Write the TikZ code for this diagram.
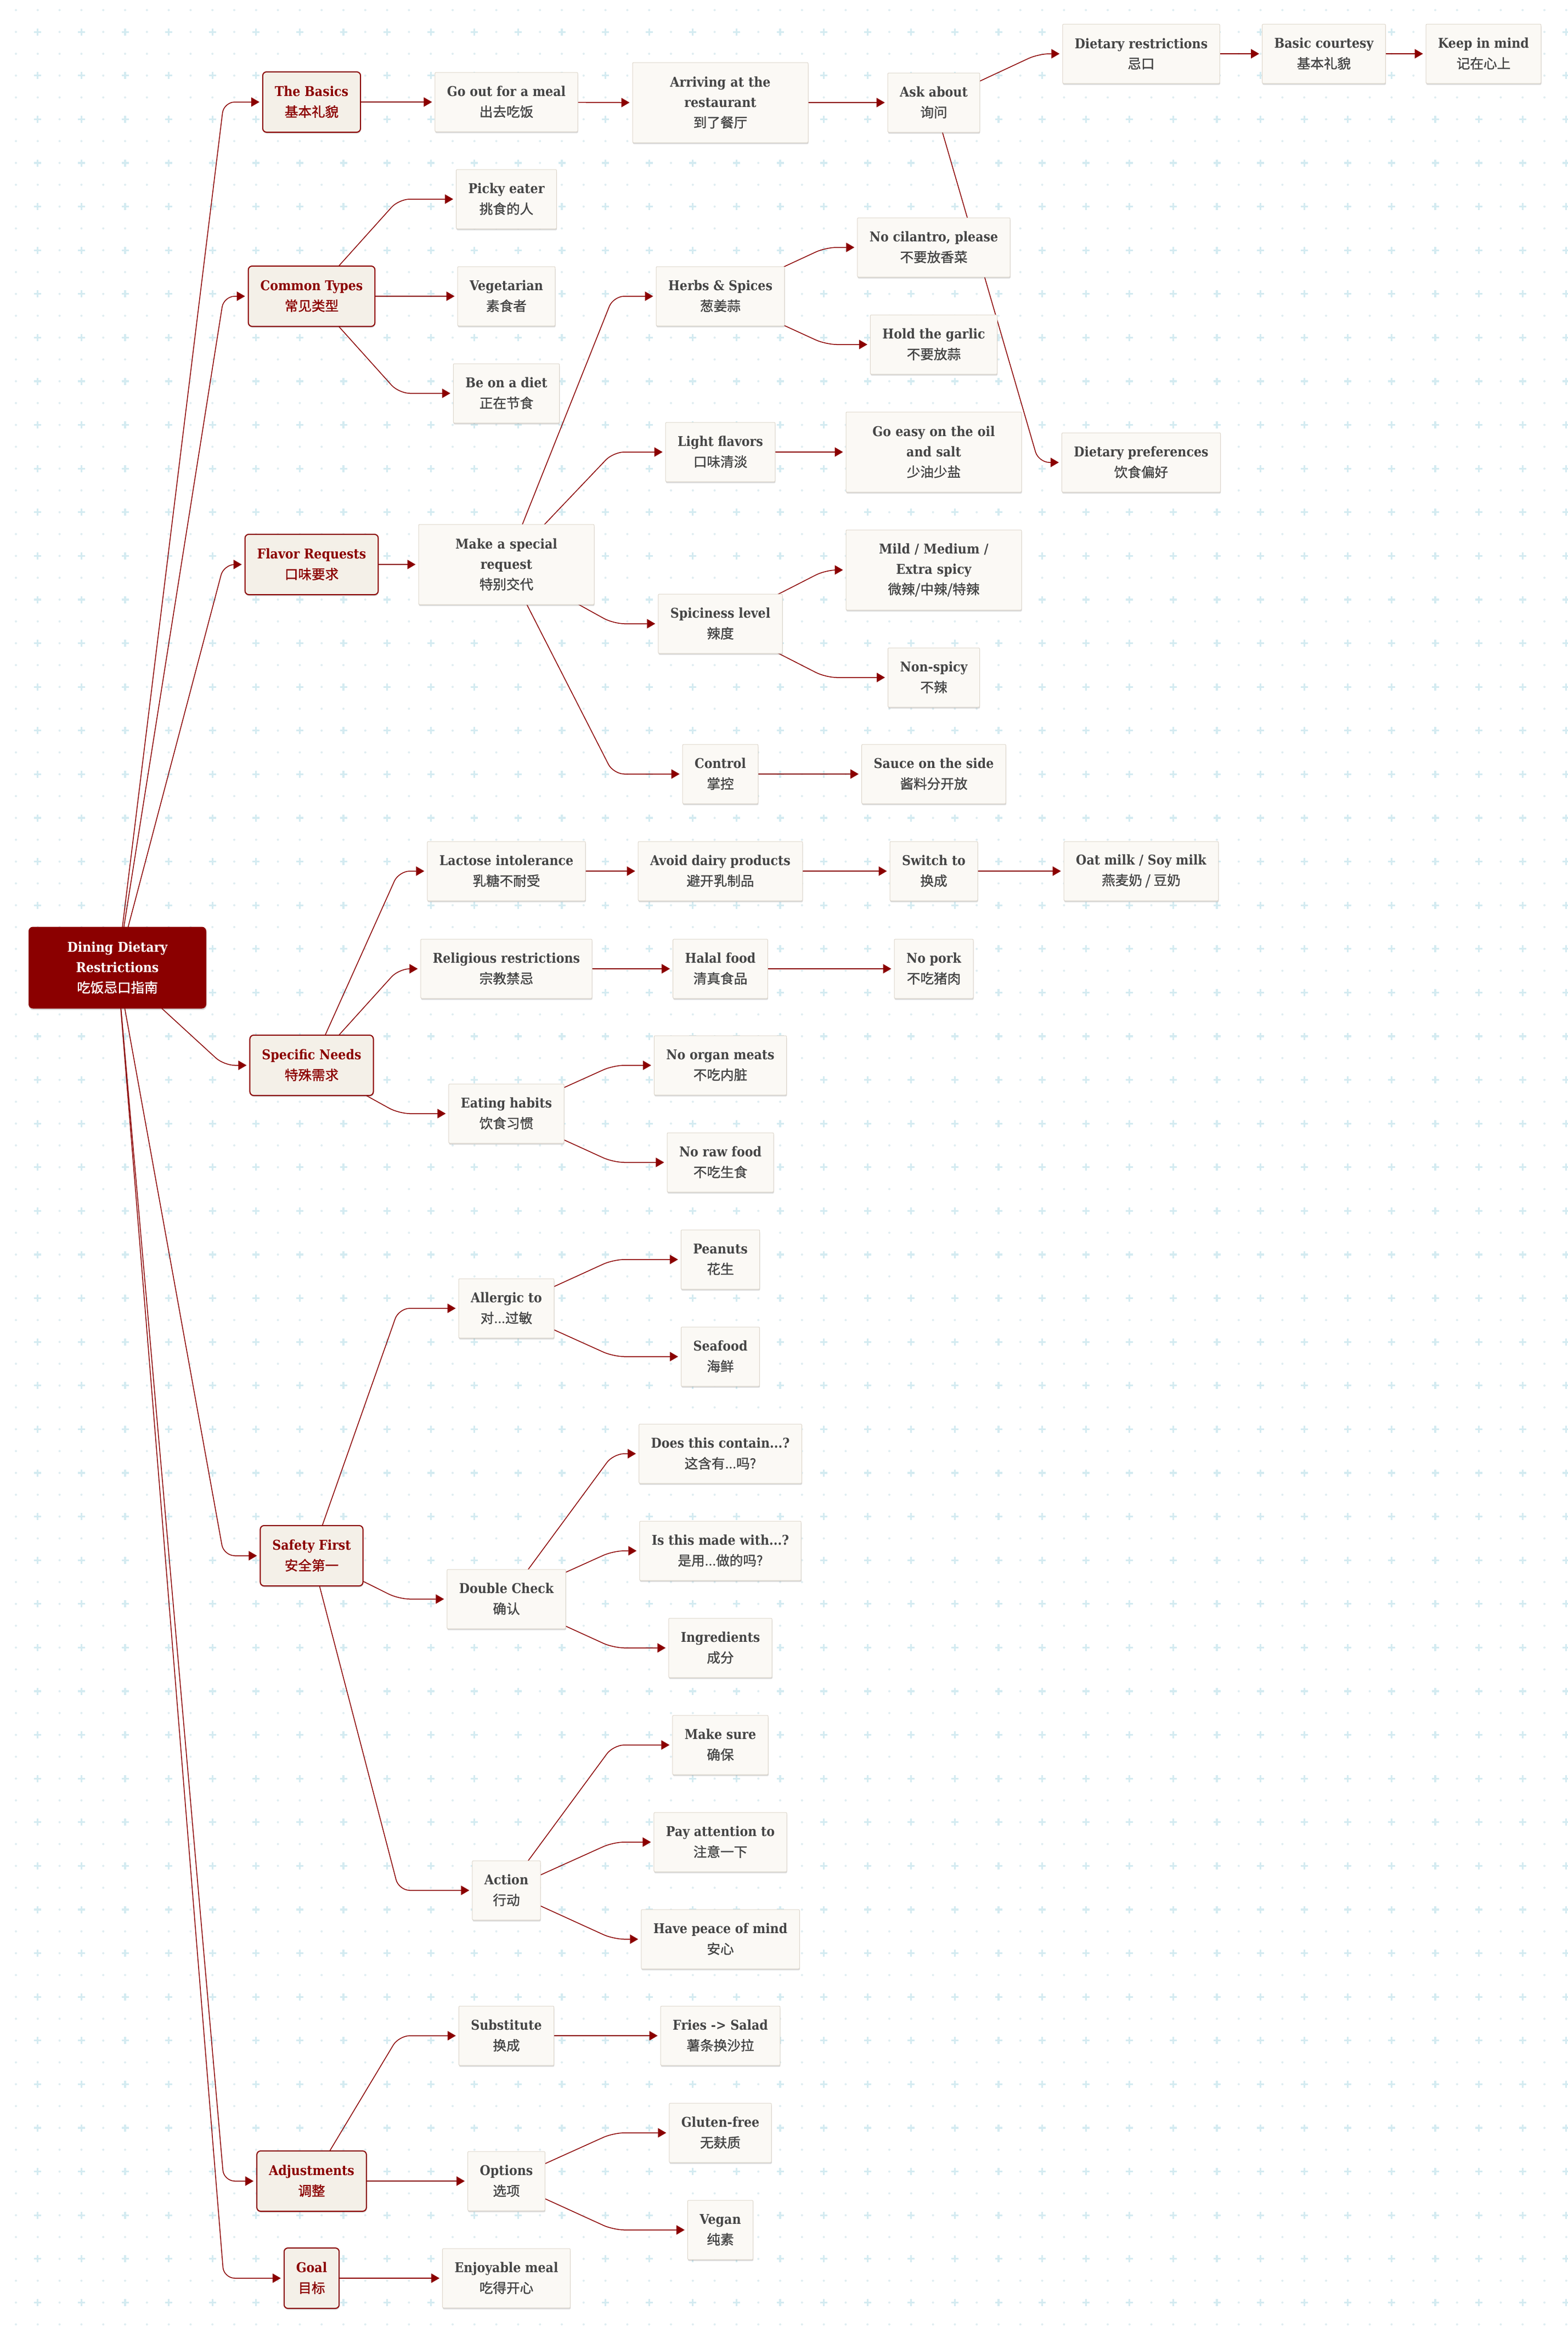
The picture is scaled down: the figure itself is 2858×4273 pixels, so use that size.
\documentclass[tikz,border=0pt]{standalone}
\usepackage{fontspec}
\setmainfont{DejaVu Serif}[FakeStretch=0.9]
\newfontfamily\cjk{Noto Sans CJK SC}[FakeBold=1.2]
\usetikzlibrary{arrows.meta,shadows,backgrounds}
\definecolor{dred}{HTML}{8B0000}
\definecolor{nodefill}{HTML}{FBF9F5}
\definecolor{nodeline}{HTML}{DDD6CB}
\definecolor{catfill}{HTML}{F4F0E8}
\definecolor{txt}{HTML}{454545}
\definecolor{dotc}{HTML}{DFEDF1}
\definecolor{plusc}{HTML}{D4EBF1}
\newcommand\zh[1]{{\cjk\mdseries #1}}
\newcommand\conn[3]{\draw[edge] (#1.center) -- (perpendicular cs: horizontal line through={(#2.west)}, vertical line through={(#3,0)}) -- (#2.west);}
\begin{document}
\begin{tikzpicture}[x=0.5pt,y=-0.5pt,
  base/.style={align=center, inner xsep=11pt, inner ysep=2pt, minimum height=54pt,
    font=\fontsize{12.3pt}{18.5pt}\selectfont\bfseries},
  shad/.style={drop shadow={shadow xshift=0.3pt,shadow yshift=-1.3pt,opacity=0.28,fill=black!55}},
  leaf/.style={base, fill=nodefill, draw=nodeline, line width=0.5pt, rounded corners=1pt, text=txt, shad},
  cat/.style={base, fill=catfill, draw=dred, line width=1pt, rounded corners=3.5pt, text=dred, minimum height=55pt, shad},
  rootbox/.style={base, fill=dred, text=white, rounded corners=4pt, minimum height=74.5pt, text width=140pt, shad},
  tall/.style={minimum height=73pt},
  wrap/.style={text width=138pt},
  edge/.style={draw=dred, line width=0.75pt, rounded corners=10pt, -{Triangle[length=7.5pt,width=8.5pt]}, shorten >=2.5pt}
]
\useasboundingbox (0,0) rectangle (2858,4273);
\begin{pgfonlayer}{background}
\fill[white] (0,0) rectangle (2858,4273);
\foreach \i in {0,...,71}{
  \fill[dotc] \foreach \j in {0,...,106}{ (29+39.8*\i,18.4+39.8*\j) circle (1pt) };
}
\foreach \i in {1,3,...,71}{
  \draw[plusc,line width=1.6pt] \foreach \j in {1,3,...,105}{
    (29+39.8*\i-6.5,18.4+39.8*\j) -- (29+39.8*\i+6.5,18.4+39.8*\j)
    (29+39.8*\i,18.4+39.8*\j-6.5) -- (29+39.8*\i,18.4+39.8*\j+6.5) };
}
\end{pgfonlayer}

% root
\node[rootbox] (root) at (214,1764) {Dining Dietary\\Restrictions\\\zh{吃饭忌口指南}};

% level 1
\node[cat] (basics)   at (568,186)  {The Basics\\\zh{基本礼貌}};
\node[cat] (common)   at (568,540)  {Common Types\\\zh{常见类型}};
\node[cat] (flavor)   at (568,1029) {Flavor Requests\\\zh{口味要求}};
\node[cat] (specific) at (568,1942) {Specific Needs\\\zh{特殊需求}};
\node[cat] (safety)   at (568,2836) {Safety First\\\zh{安全第一}};
\node[cat] (adjust)   at (568,3976) {Adjustments\\\zh{调整}};
\node[cat] (goal)     at (568,4153) {Goal\\\zh{目标}};

% level 2
\node[leaf] (goout)      at (923,186)  {Go out for a meal\\\zh{出去吃饭}};
\node[leaf] (picky)      at (923,363)  {Picky eater\\\zh{挑食的人}};
\node[leaf] (veg)        at (923,540)  {Vegetarian\\\zh{素食者}};
\node[leaf] (diet)       at (923,717)  {Be on a diet\\\zh{正在节食}};
\node[leaf,wrap,tall] (special) at (923,1029) {Make a special\\request\\\zh{特别交代}};
\node[leaf] (lactose)    at (923,1588) {Lactose intolerance\\\zh{乳糖不耐受}};
\node[leaf] (religious)  at (923,1766) {Religious restrictions\\\zh{宗教禁忌}};
\node[leaf] (eating)     at (923,2030) {Eating habits\\\zh{饮食习惯}};
\node[leaf] (allergic)   at (923,2385) {Allergic to\\\zh{对...过敏}};
\node[leaf] (double)     at (923,2915) {Double Check\\\zh{确认}};
\node[leaf] (action)     at (923,3446) {Action\\\zh{行动}};
\node[leaf] (substitute) at (923,3711) {Substitute\\\zh{换成}};
\node[leaf] (options)    at (923,3976) {Options\\\zh{选项}};
\node[leaf] (enjoy)      at (923,4153) {Enjoyable meal\\\zh{吃得开心}};

% level 3
\node[leaf,wrap,tall] (arriving) at (1313,187) {Arriving at the\\restaurant\\\zh{到了餐厅}};
\node[leaf] (herbs)    at (1313,540)  {Herbs \& Spices\\\zh{葱姜蒜}};
\node[leaf] (light)    at (1313,824)  {Light flavors\\\zh{口味清淡}};
\node[leaf] (spicy)    at (1313,1137) {Spiciness level\\\zh{辣度}};
\node[leaf] (control)  at (1313,1411) {Control\\\zh{掌控}};
\node[leaf] (avoid)    at (1313,1588) {Avoid dairy products\\\zh{避开乳制品}};
\node[leaf] (halal)    at (1313,1766) {Halal food\\\zh{清真食品}};
\node[leaf] (organ)    at (1313,1942) {No organ meats\\\zh{不吃内脏}};
\node[leaf] (raw)      at (1313,2119) {No raw food\\\zh{不吃生食}};
\node[leaf] (peanuts)  at (1313,2296) {Peanuts\\\zh{花生}};
\node[leaf] (seafood)  at (1313,2473) {Seafood\\\zh{海鲜}};
\node[leaf] (contain)  at (1313,2650) {Does this contain...?\\\zh{这含有...吗?}};
\node[leaf] (madewith) at (1313,2827) {Is this made with...?\\\zh{是用...做的吗?}};
\node[leaf] (ingred)   at (1313,3004) {Ingredients\\\zh{成分}};
\node[leaf] (makesure) at (1313,3181) {Make sure\\\zh{确保}};
\node[leaf] (payatt)   at (1313,3358) {Pay attention to\\\zh{注意一下}};
\node[leaf] (peace)    at (1313,3535) {Have peace of mind\\\zh{安心}};
\node[leaf] (fries)    at (1313,3711) {Fries -> Salad\\\zh{薯条换沙拉}};
\node[leaf] (gluten)   at (1313,3888) {Gluten-free\\\zh{无麸质}};
\node[leaf] (vegan)    at (1313,4065) {Vegan\\\zh{纯素}};

% level 4
\node[leaf] (askabout) at (1702,187)  {Ask about\\\zh{询问}};
\node[leaf] (cilantro) at (1702,451)  {No cilantro, please\\\zh{不要放香菜}};
\node[leaf] (garlic)   at (1702,628)  {Hold the garlic\\\zh{不要放蒜}};
\node[leaf,wrap,tall] (goeasy) at (1702,824) {Go easy on the oil\\and salt\\\zh{少油少盐}};
\node[leaf,wrap,tall] (mild)   at (1702,1039) {Mild / Medium /\\Extra spicy\\\zh{微辣/中辣/特辣}};
\node[leaf] (nonspicy) at (1702,1235) {Non-spicy\\\zh{不辣}};
\node[leaf] (sauce)    at (1702,1411) {Sauce on the side\\\zh{酱料分开放}};
\node[leaf] (switch)   at (1702,1588) {Switch to\\\zh{换成}};
\node[leaf] (nopork)   at (1702,1766) {No pork\\\zh{不吃猪肉}};

% level 5-7
\node[leaf] (dietres)  at (2080,98)   {Dietary restrictions\\\zh{忌口}};
\node[leaf] (dietpref) at (2080,843)  {Dietary preferences\\\zh{饮食偏好}};
\node[leaf] (oatmilk)  at (2080,1588) {Oat milk / Soy milk\\\zh{燕麦奶 / 豆奶}};
\node[leaf] (courtesy) at (2413,98)   {Basic courtesy\\\zh{基本礼貌}};
\node[leaf] (keepmind) at (2704,98)   {Keep in mind\\\zh{记在心上}};

\begin{pgfonlayer}{background}
\foreach \c in {basics,common,flavor,specific,safety,adjust,goal}{\conn{root}{\c}{408}}
\conn{basics}{goout}{727}
\foreach \c in {picky,veg,diet}{\conn{common}{\c}{727}}
\conn{flavor}{special}{727}
\foreach \c in {lactose,religious,eating}{\conn{specific}{\c}{727}}
\foreach \c in {allergic,double,action}{\conn{safety}{\c}{727}}
\foreach \c in {substitute,options}{\conn{adjust}{\c}{727}}
\conn{goal}{enjoy}{727}
\conn{goout}{arriving}{1118}
\foreach \c in {herbs,light,spicy,control}{\conn{special}{\c}{1118}}
\conn{lactose}{avoid}{1118}
\conn{religious}{halal}{1118}
\foreach \c in {organ,raw}{\conn{eating}{\c}{1118}}
\foreach \c in {peanuts,seafood}{\conn{allergic}{\c}{1118}}
\foreach \c in {contain,madewith,ingred}{\conn{double}{\c}{1118}}
\foreach \c in {makesure,payatt,peace}{\conn{action}{\c}{1118}}
\conn{substitute}{fries}{1118}
\foreach \c in {gluten,vegan}{\conn{options}{\c}{1118}}
\conn{arriving}{askabout}{1505}
\foreach \c in {cilantro,garlic}{\conn{herbs}{\c}{1505}}
\conn{light}{goeasy}{1505}
\foreach \c in {mild,nonspicy}{\conn{spicy}{\c}{1505}}
\conn{control}{sauce}{1505}
\conn{avoid}{switch}{1505}
\conn{halal}{nopork}{1505}
\foreach \c in {dietres,dietpref}{\conn{askabout}{\c}{1893}}
\conn{switch}{oatmilk}{1893}
\conn{dietres}{courtesy}{2264}
\conn{courtesy}{keepmind}{2561}
\end{pgfonlayer}
\end{tikzpicture}
\end{document}
